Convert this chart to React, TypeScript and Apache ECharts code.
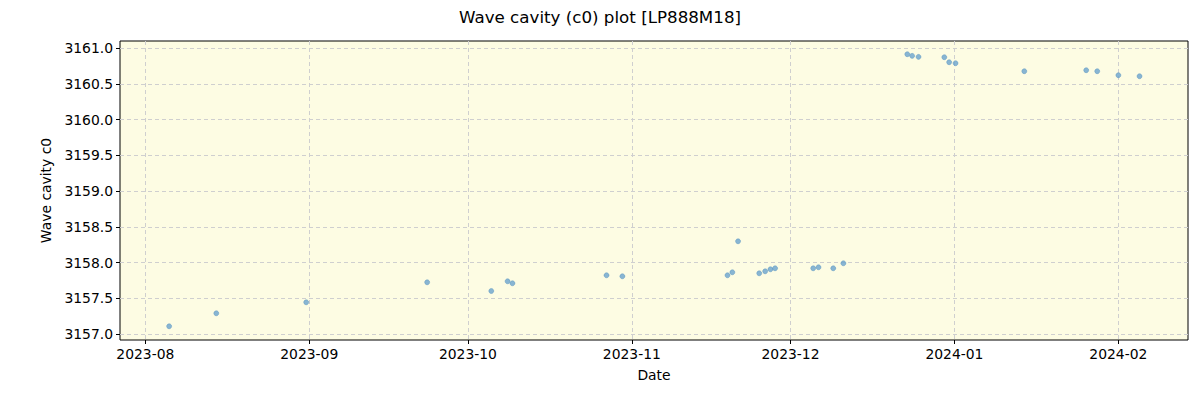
import React, { useEffect, useRef } from "react";
import * as echarts from "echarts";

const dates: string[] = [
  "2023-08-05T12:00", "2023-08-14T10:00", "2023-08-31T10:00", "2023-09-23T07:00",
  "2023-10-05T10:00", "2023-10-08T12:00", "2023-10-09T10:00", "2023-10-27T05:00",
  "2023-10-30T05:00", "2023-11-19T02:00", "2023-11-20T00:00", "2023-11-21T02:00",
  "2023-11-25T02:00", "2023-11-26T05:00", "2023-11-27T05:00", "2023-11-28T02:00",
  "2023-12-05T07:00", "2023-12-06T07:00", "2023-12-09T02:00", "2023-12-11T00:00",
  "2023-12-23T02:00", "2023-12-24T00:00", "2023-12-25T05:00", "2023-12-30T02:00",
  "2023-12-31T00:00", "2024-01-01T05:00", "2024-01-14T05:00", "2024-01-25T22:00",
  "2024-01-28T00:00", "2024-02-01T00:00", "2024-02-05T00:00",
];

const values: number[] = [
  3157.108, 3157.29, 3157.444, 3157.724,
  3157.602, 3157.738, 3157.71, 3157.822,
  3157.808, 3157.822, 3157.864, 3158.298,
  3157.85, 3157.878, 3157.906, 3157.92,
  3157.92, 3157.934, 3157.92, 3157.99,
  3160.917, 3160.894, 3160.88, 3160.875,
  3160.805, 3160.791, 3160.679, 3160.693,
  3160.679, 3160.623, 3160.609,
];

const xTickLabels: string[] = [
  "2023-08-01", "2023-09-01", "2023-10-01", "2023-11-01",
  "2023-12-01", "2024-01-01", "2024-02-01",
];

const yTicks: number[] = [3157.0, 3157.5, 3158.0, 3158.5, 3159.0, 3159.5, 3160.0, 3160.5, 3161.0];

const xMin = "2023-07-27T05:00";
const xMax = "2024-02-14T04:00";
const yMin = 3156.916;
const yMax = 3161.102;

const FONT = "DejaVu Sans";

export default function App() {
  const ref = useRef<HTMLDivElement>(null);
  useEffect(() => {
    if (!ref.current) return;
    const chart = echarts.init(ref.current, undefined, { renderer: "svg" });
    const xTickVals = xTickLabels.map((d) => new Date(d + "T00:00").getTime());
    const pad2 = (n: number) => (n < 10 ? "0" + n : "" + n);
    chart.setOption({
      animation: false,
      backgroundColor: "#ffffff",
      title: {
        text: "Wave cavity (c0) plot [LP888M18]",
        left: "center",
        top: 3,
        textStyle: { fontFamily: FONT, fontSize: 16.7, fontWeight: "normal", color: "#000" },
      },
      grid: {
        left: 120,
        right: 12,
        top: 41,
        bottom: 60,
        show: true,
        backgroundColor: "#fdfce3",
        borderColor: "#000",
        borderWidth: 1,
      },
      xAxis: {
        type: "value",
        min: new Date(xMin).getTime(),
        max: new Date(xMax).getTime(),
        name: "Date",
        nameLocation: "middle",
        nameGap: 28,
        nameTextStyle: { fontFamily: FONT, fontSize: 13.9, color: "#000" },
        axisLine: { show: false },
        axisTick: {
          show: true,
          customValues: xTickVals,
          length: 4,
          lineStyle: { color: "#000", width: 1 },
        },
        axisLabel: {
          customValues: xTickVals,
          fontFamily: FONT,
          fontSize: 13.9,
          color: "#000",
          margin: 7,
          formatter: (v: number) => {
            const d = new Date(v);
            return d.getFullYear() + "-" + pad2(d.getMonth() + 1);
          },
        },
        splitLine: {
          show: true,
          lineStyle: { color: "#cfcfcf", type: [4, 3], width: 1 },
        },
      },
      yAxis: {
        type: "value",
        min: yMin,
        max: yMax,
        name: "Wave cavity c0",
        nameLocation: "middle",
        nameGap: 65,
        nameRotate: 90,
        nameTextStyle: { fontFamily: FONT, fontSize: 13.9, color: "#000" },
        axisLine: { show: false },
        axisTick: {
          show: true,
          customValues: yTicks,
          length: 4,
          lineStyle: { color: "#000", width: 1 },
        },
        axisLabel: {
          customValues: yTicks,
          fontFamily: FONT,
          fontSize: 13.9,
          color: "#000",
          margin: 7,
          formatter: (v: number) => v.toFixed(1),
        },
        splitLine: {
          show: true,
          lineStyle: { color: "#cfcfcf", type: [4, 3], width: 1 },
        },
      },
      series: [
        {
          type: "scatter",
          data: dates.map((d, i) => [new Date(d).getTime(), values[i]]),
          symbol: "circle",
          symbolSize: 5,
          itemStyle: { color: "#6aa3cd", borderColor: "#4f8fbf", borderWidth: 0.5 },
        },
      ],
    });
    return () => chart.dispose();
  }, []);
  return (
    <div
      ref={ref}
      style={{ position: "fixed", left: 0, top: 0, width: 1200, height: 400 }}
    />
  );
}
